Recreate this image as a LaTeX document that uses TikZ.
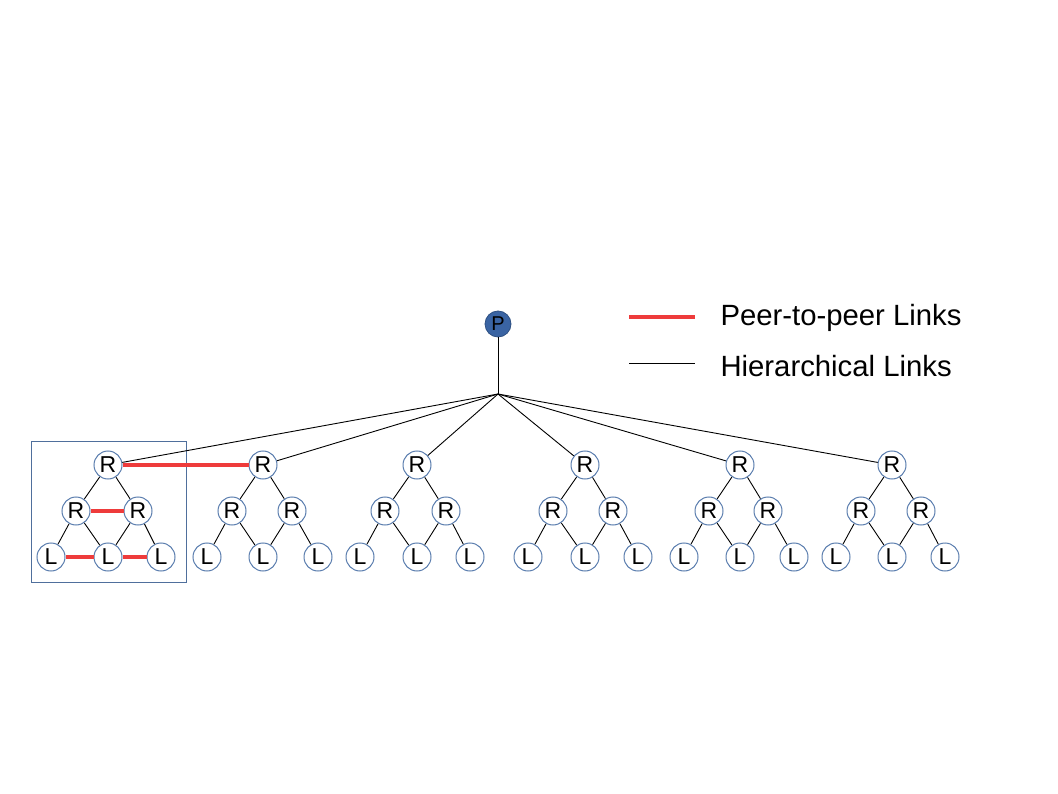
\documentclass[tikz,border=0pt]{standalone}
\usepackage{fontspec}
\setmainfont{Liberation Sans}
\definecolor{nodeblue}{HTML}{5A7DAE}
\definecolor{pfill}{HTML}{3A64A3}
\definecolor{peerred}{HTML}{EE3B3B}
\definecolor{boxblue}{HTML}{4F6F9C}
\begin{document}
\begin{tikzpicture}[x=1pt,y=-1pt,
  nd/.style={circle,draw=nodeblue,line width=1pt,fill=white,minimum size=28pt,inner sep=0pt,font=\fontsize{23}{23}\selectfont},
  hier/.style={black,line width=0.9pt},
  peer/.style={peerred,line width=4pt},
  legtext/.style={anchor=west,font=\fontsize{29.3}{29.3}\selectfont}]
\useasboundingbox (0,0) rectangle (1058,794);
% box around first tree
\draw[boxblue,line width=1pt] (31,441) rectangle (186,582);
% root
\node[circle,fill=pfill,draw=pfill!80!black,line width=0.8pt,minimum size=26pt,inner sep=0pt,font=\fontsize{20}{20}\selectfont] (P) at (498,324) {P};
\coordinate (J) at (498,394);
\draw[hier] (P) -- (J);
% trees
\foreach \i/\r/\ml/\mr/\la/\lb/\lc in {1/108/76/138/51/108/161, 2/263/232/292/207/263/318, 3/417/385/446/360/417/470, 4/585/553/613/528/585/638, 5/740/709/768/684/740/794, 6/892/861/921/836/892/945}{
  \node[nd] (r\i) at (\r,465) {R};
  \node[nd] (ml\i) at (\ml,511) {R};
  \node[nd] (mr\i) at (\mr,511) {R};
  \node[nd] (la\i) at (\la,557) {L};
  \node[nd] (lb\i) at (\lb,557) {L};
  \node[nd] (lc\i) at (\lc,557) {L};
  \draw[hier] (J) -- (r\i);
  \draw[hier] (r\i) -- (ml\i);
  \draw[hier] (r\i) -- (mr\i);
  \draw[hier] (ml\i) -- (la\i);
  \draw[hier] (ml\i) -- (lb\i);
  \draw[hier] (mr\i) -- (lb\i);
  \draw[hier] (mr\i) -- (lc\i);
}
% peer links
\draw[peer] (r1) -- (r2);
\draw[peer] (ml1) -- (mr1);
\draw[peer] (la1) -- (lb1);
\draw[peer] (lb1) -- (lc1);
% legend
\coordinate (a1) at (629,317);
\coordinate (a2) at (695,317);
\coordinate (b1) at (629,363);
\coordinate (b2) at (695,363);
\draw[peer] (a1) -- (a2);
\draw[hier] (b1) -- (b2);
\node[legtext] (t1) at (717,318) {Peer-to-peer Links};
\node[legtext] (t2) at (717,366) {Hierarchical Links};
\end{tikzpicture}
\end{document}
